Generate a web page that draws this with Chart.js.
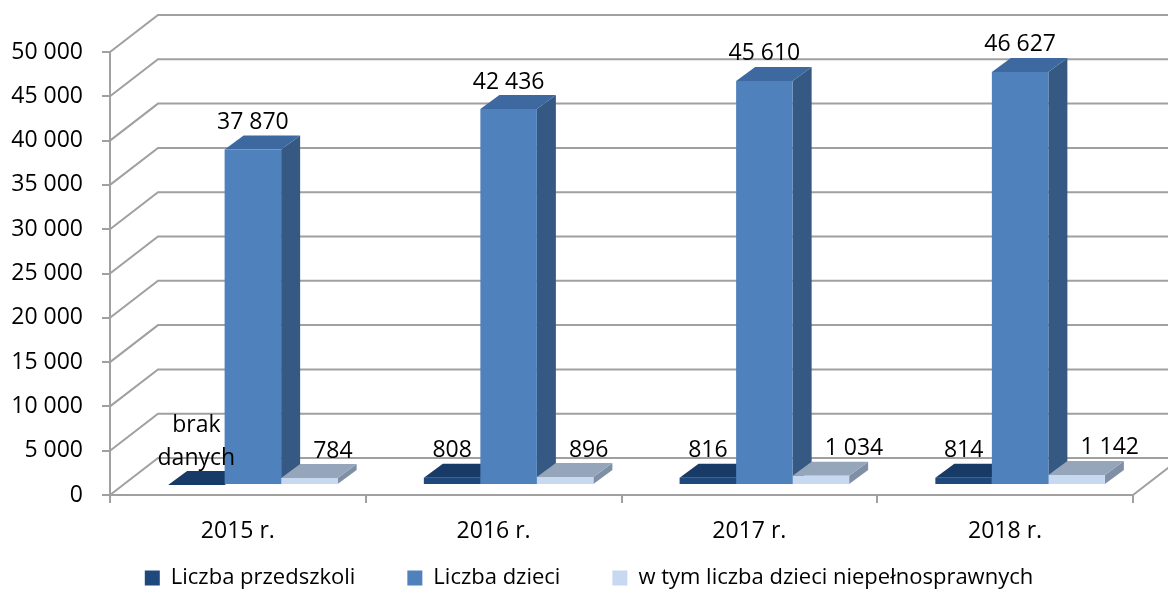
<!DOCTYPE html>
<html>
<head>
<meta charset="utf-8">
<script src="https://cdn.jsdelivr.net/npm/chart.js@4.4.1/dist/chart.umd.min.js"></script>
<style>
  html, body { margin: 0; padding: 0; background: #fff; }
  #wrap { width: 1168px; height: 604px; }
</style>
</head>
<body>
<div id="wrap"><canvas id="myChart"></canvas></div>
<script>
// dane
const categories = ['2015 r.', '2016 r.', '2017 r.', '2018 r.'];
const przedszkola = [null, 808, 816, 814];
const dzieci = [37870, 42436, 45610, 46627];
const niepelnosprawni = [784, 896, 1034, 1142];
const yMax = 50000;
const yStep = 5000;
const noDataLabel = ['brak', 'danych'];

const fontFamily = "'Open Sans', sans-serif";
const gridColor = '#a0a0a0';

// przesunięcia "3D"
const wallDx = 48, wallDy = -37;
const barDx = 15, barDy = -10;
const depthDx = 19, depthDy = -14;

const faces = [
    { front: '#1f497d', top: '#183a66', side: '#14325a' },
    { front: '#4f81bd', top: '#3e69a0', side: '#355982' },
    { front: '#c6d9f1', top: '#95a5ba', side: '#7f90a6' }
];

const fmt = (v) => String(v).replace(/\B(?=(\d{3})+(?!\d))/g, ' ');

const topOf = (chart, el) => Number.isFinite(el.y) ? el.y : chart.scales.y.getPixelForValue(0);

const bars3d = {
    id: 'bars3d',
    beforeDatasetsDraw(chart) {
        const { ctx, chartArea: a, scales: { y } } = chart;

        // tylna ściana + podłoga
        ctx.save();
        ctx.strokeStyle = gridColor;
        ctx.lineWidth = 2;
        ctx.beginPath();
        y.ticks.forEach((t) => {
            const py = y.getPixelForValue(t.value);
            ctx.moveTo(a.left, py);
            ctx.lineTo(a.left + wallDx, py + wallDy);
            ctx.lineTo(chart.width, py + wallDy);
        });
        ctx.moveTo(a.right, a.bottom);
        ctx.lineTo(a.right + wallDx, a.bottom + wallDy);
        ctx.stroke();
        ctx.restore();

        // boki i wierzchy słupków, od lewej do prawej
        ctx.save();
        ctx.translate(barDx, barDy);
        for (let j = 0; j < categories.length; j++) {
            chart.data.datasets.forEach((ds, i) => {
                const el = chart.getDatasetMeta(i).data[j];
                if (!el) return;
                const l = el.x - el.width / 2;
                const r = el.x + el.width / 2;
                const t = topOf(chart, el);
                const b = Number.isFinite(el.base) ? el.base : y.getPixelForValue(0);

                ctx.fillStyle = faces[i].side;
                ctx.beginPath();
                ctx.moveTo(r, t);
                ctx.lineTo(r + depthDx, t + depthDy);
                ctx.lineTo(r + depthDx, b + depthDy);
                ctx.lineTo(r, b);
                ctx.closePath();
                ctx.fill();

                ctx.fillStyle = faces[i].top;
                ctx.beginPath();
                ctx.moveTo(l, t);
                ctx.lineTo(r, t);
                ctx.lineTo(r + depthDx, t + depthDy);
                ctx.lineTo(l + depthDx, t + depthDy);
                ctx.closePath();
                ctx.fill();
            });
        }
    },
    afterDatasetsDraw(chart) {
        const { ctx } = chart;
        ctx.restore();

        // etykiety wartości
        ctx.save();
        ctx.font = '23px ' + fontFamily;
        ctx.fillStyle = '#000';
        ctx.textBaseline = 'middle';
        chart.data.datasets.forEach((ds, i) => {
            chart.getDatasetMeta(i).data.forEach((el, j) => {
                const v = ds.data[j];
                const t = topOf(chart, el) + barDy;
                const lines = v == null ? noDataLabel : [fmt(v)];
                let x = el.x + barDx;
                ctx.textAlign = 'center';
                if (i === 2) {
                    ctx.textAlign = 'left';
                    x = el.x - el.width / 2 + barDx + 32;
                }
                lines.forEach((line, k) => {
                    ctx.fillText(line, x, t - 27 - (lines.length - 1 - k) * 33);
                });
            });
        });
        ctx.restore();
    }
};

const ctx = document.getElementById('myChart').getContext('2d');

const myChart = new Chart(ctx, {
    type: 'bar',
    data: {
        labels: categories,
        datasets: [{
                label: 'Liczba przedszkoli',
                data: przedszkola,
                backgroundColor: faces[0].front,
            },
            {
                label: 'Liczba dzieci',
                data: dzieci,
                backgroundColor: faces[1].front,
            },
            {
                label: 'w tym liczba dzieci niepełnosprawnych',
                data: niepelnosprawni,
                backgroundColor: faces[2].front,
            }
        ]
    },
    options: {
        responsive: true,
        maintainAspectRatio: false,
        animation: false,
        datasets: {
            bar: {
                borderWidth: 0,
                categoryPercentage: 0.663,
                barPercentage: 1,
                clip: false
            }
        },
        layout: {
            padding: { left: 10, right: 0, top: 52, bottom: 5 }
        },
        plugins: {
            legend: {
                position: 'bottom',
                labels: {
                    boxWidth: 15,
                    boxHeight: 15,
                    padding: 8,
                    color: '#000',
                    font: { size: 22, family: fontFamily },
                    // odstęp między pozycjami legendy jak w Excelu
                    generateLabels(chart) {
                        const items = Chart.defaults.plugins.legend.labels.generateLabels(chart);
                        items.forEach((it, i) => {
                            if (i < items.length - 1) it.text += '\u2003\u2003';
                        });
                        return items;
                    }
                }
            },
            tooltip: { enabled: false }
        },
        scales: {
            x: {
                grid: {
                    display: true,
                    drawOnChartArea: false,
                    tickLength: 8,
                    color: gridColor,
                    lineWidth: 2
                },
                border: { display: true, color: gridColor, width: 2 },
                ticks: {
                    color: '#000',
                    padding: 15,
                    font: { size: 23, family: fontFamily }
                },
                afterFit(s) {
                    s.height = 64;
                    s.paddingLeft = 0;
                    s.paddingRight = 0;
                }
            },
            y: {
                min: 0,
                max: yMax,
                grid: {
                    display: true,
                    drawOnChartArea: false,
                    tickLength: 8,
                    color: gridColor,
                    lineWidth: 2
                },
                border: { display: true, color: gridColor, width: 2 },
                ticks: {
                    stepSize: yStep,
                    color: '#000',
                    padding: 19,
                    font: { size: 23, family: fontFamily },
                    callback: (v) => fmt(v)
                },
                afterFit(s) {
                    s.width = 100;
                    s.paddingTop = 0;
                    s.paddingBottom = 0;
                }
            },
            // pusta oś po prawej: tylko rezerwuje miejsce
            yRight: {
                type: 'linear',
                position: 'right',
                grid: { display: false },
                border: { display: false },
                ticks: { display: false },
                afterFit(s) {
                    s.width = 35;
                    s.paddingTop = 0;
                    s.paddingBottom = 0;
                }
            }
        }
    },
    plugins: [bars3d]
});
</script>
</body>
</html>
